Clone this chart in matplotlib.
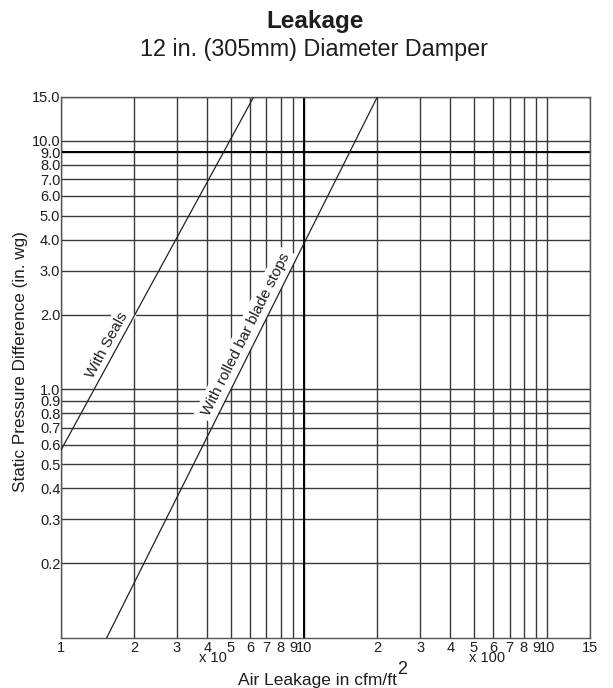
import numpy as np
import matplotlib
matplotlib.use('Agg')
import matplotlib.pyplot as plt
from matplotlib.ticker import NullLocator

plt.rcParams['font.family'] = ['Liberation Sans', 'DejaVu Sans']

# data (x in cfm/ft2, y in in. wg)
seals_x = [10, 62]
seals_y = [0.57, 15.0]
rolled_x = [15.4, 200]
rolled_y = [0.1, 15.0]

x_ticks = [10, 20, 30, 40, 50, 60, 70, 80, 90, 100,
           200, 300, 400, 500, 600, 700, 800, 900, 1000, 1500]
x_labels = ['1', '2', '3', '4', '5', '6', '7', '8', '9', '10',
            '2', '3', '4', '5', '6', '7', '8', '9', '10', '15']
y_ticks = [0.2, 0.3, 0.4, 0.5, 0.6, 0.7, 0.8, 0.9, 1.0,
           2.0, 3.0, 4.0, 5.0, 6.0, 7.0, 8.0, 9.0, 10.0, 15.0]
y_labels = ['0.2', '0.3', '0.4', '0.5', '0.6', '0.7', '0.8', '0.9', '1.0',
            '2.0', '3.0', '4.0', '5.0', '6.0', '7.0', '8.0', '9.0', '10.0', '15.0']

grid_col = '#3a3a3a'
txt_col = '#1e1e1e'

fig = plt.figure(figsize=(6.13, 6.88), dpi=100)
ax = fig.add_axes([61 / 613, 50 / 688, 529 / 613, 541 / 688])
ax.set_xscale('log')
ax.set_yscale('log')
ax.set_xlim(10, 1500)
ax.set_ylim(0.1, 15)

ax.set_xticks(x_ticks)
ax.set_xticklabels(x_labels)
ax.set_yticks(y_ticks)
ax.set_yticklabels(y_labels)
ax.xaxis.set_minor_locator(NullLocator())
ax.yaxis.set_minor_locator(NullLocator())
ax.tick_params(length=0, labelsize=10.5, colors=txt_col)
ax.tick_params(axis='x', pad=2)
ax.tick_params(axis='y', pad=0.5)
ax.grid(True, color=grid_col, linewidth=1.0, zorder=1)
ax.set_axisbelow(True)
for s in ax.spines.values():
    s.set_color('#555555')
    s.set_linewidth(1.0)

# darker lines at 100 and 9.0
ax.axvline(100, color='black', linewidth=1.4, zorder=1.5)
ax.axhline(9.0, color='black', linewidth=1.4, zorder=1.5)

ax.plot(seals_x, seals_y, color='#222222', linewidth=0.9, zorder=4)
ax.plot(rolled_x, rolled_y, color='#222222', linewidth=0.9, zorder=4)


def line_angle(xs, ys):
    p = ax.transData.transform(np.column_stack([xs, ys]))
    return np.degrees(np.arctan2(p[1, 1] - p[0, 1], p[1, 0] - p[0, 0]))


box = dict(facecolor='white', edgecolor='none', pad=3)
ax.text(15.5, 1.5, 'With Seals', rotation=line_angle(seals_x, seals_y),
        ha='center', va='center', fontsize=11, color=txt_col,
        bbox=box, zorder=3, rotation_mode='anchor')
ax.text(57.5, 1.66, 'With rolled bar blade stops',
        rotation=line_angle(rolled_x, rolled_y),
        ha='center', va='center', fontsize=11, color=txt_col,
        bbox=box, zorder=3, rotation_mode='anchor')

ax.annotate('x 10', xy=(42, 0), xycoords=('data', 'axes fraction'),
            xytext=(0, -20), textcoords='offset pixels',
            ha='center', va='center', fontsize=10.5, color=txt_col)
ax.annotate('x 100', xy=(565, 0), xycoords=('data', 'axes fraction'),
            xytext=(0, -20), textcoords='offset pixels',
            ha='center', va='center', fontsize=10.5, color=txt_col)

xl = fig.text(0.518, 1 - 680 / 688, 'Air Leakage in cfm/ft', ha='center',
              va='center', fontsize=12.5, color=txt_col)
ax.annotate('2', xy=(1.0, 0.62), xycoords=xl, ha='left', va='bottom',
            fontsize=13, color=txt_col)

fig.text(0.033, 1 - 362 / 688, 'Static Pressure Difference (in. wg)',
         rotation=90, ha='center', va='center', fontsize=12.3, color=txt_col)

fig.text(0.514, 1 - 28 / 688, 'Leakage', ha='center', va='baseline',
         fontsize=17.5, fontweight='bold', color=txt_col)
fig.text(0.513, 1 - 56 / 688, '12 in. (305mm) Diameter Damper',
         ha='center', va='baseline', fontsize=16.8, color=txt_col)

fig.savefig('out.png', dpi=100)
